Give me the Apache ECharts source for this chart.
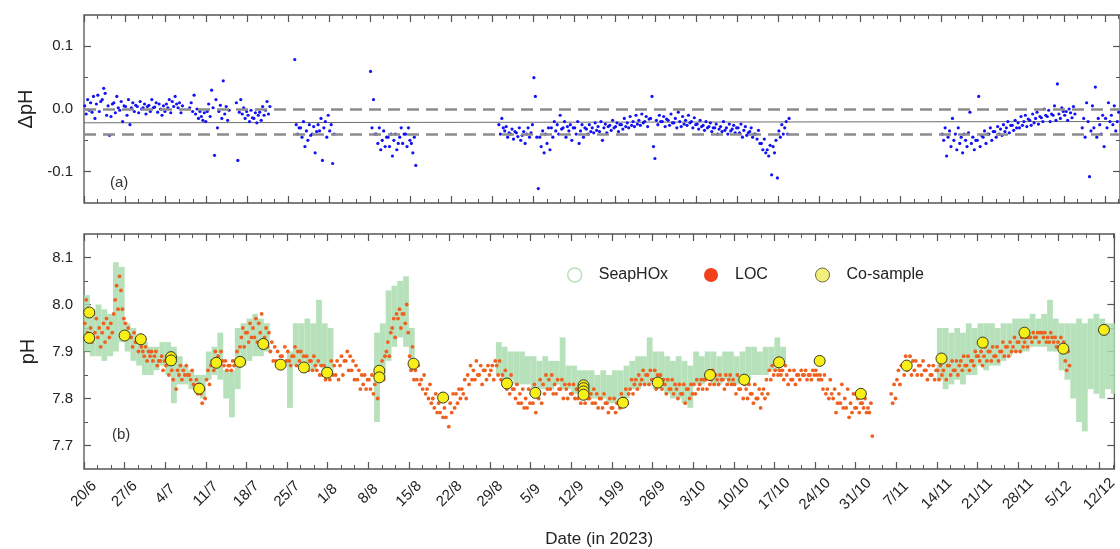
<!DOCTYPE html>
<html>
<head>
<meta charset="utf-8">
<script src="https://cdn.jsdelivr.net/npm/echarts@6/dist/echarts.min.js"></script>
<style>
  html, body { margin: 0; padding: 0; background: #fff; }
  #chart { width: 1120px; height: 549px; }
</style>
</head>
<body>
<div id="chart"></div>
<script>
// x = days since 20/6/2023
var tickLabels = ['20/6', '27/6', '4/7', '11/7', '18/7', '25/7', '1/8', '8/8', '15/8', '22/8', '29/8', '5/9', '12/9',
    '19/9', '26/9', '3/10', '10/10', '17/10', '24/10', '31/10', '7/11', '14/11', '21/11', '28/11', '5/12', '12/12'];
var xMax = 177.6;

var dphMajorTicks = [-0.1, 0, 0.1];
var dphMinorTicks = [-0.05, 0.05];
var phMajorTicks = [7.7, 7.8, 7.9, 8.0, 8.1];
var phMinorTicks = [7.75, 7.85, 7.95, 8.05];

// (a) delta pH, [day, samples over the day...]
var dphByDay = [
    [0, 0.005, -0.008, 0.015, -0.002], [1, 0.010, -0.005, 0.020, -0.015], [2, 0.008, 0.022, -0.004, 0.012],
    [3, 0.015, 0.033, 0.025, -0.010], [4, 0.005, -0.042, -0.012, 0.008], [5, 0.010, -0.006, 0.020, 0.002],
    [6, -0.002, 0.012, -0.020, 0.005], [7, 0.004, -0.010, 0.015, -0.025], [8, 0.002, 0.010, -0.004, 0.006],
    [9, 0.004, -0.006, 0.012, 0.000], [10, 0.002, 0.008, -0.008, 0.004], [11, 0.006, -0.004, 0.015, 0.002],
    [12, 0.003, 0.010, -0.005, 0.008], [13, 0.000, -0.010, 0.005, -0.004], [14, 0.008, 0.002, 0.015, -0.006],
    [15, 0.012, 0.004, 0.020, 0.008], [16, 0.002, 0.010, -0.006, 0.005],
    [18, 0.002, 0.010, -0.004, 0.022], [19, -0.008, 0.000, -0.015, -0.004], [20, -0.012, -0.018, -0.006, -0.020],
    [21, -0.004, 0.008, -0.012, 0.030], [22, 0.002, -0.074, 0.015, -0.030], [23, -0.004, 0.006, -0.015, 0.045],
    [24, -0.008, 0.004, -0.018, -0.002],
    [26, 0.010, -0.082, -0.005, 0.015], [27, -0.008, 0.002, -0.015, -0.004], [28, -0.010, -0.020, -0.002, -0.014],
    [29, -0.015, -0.006, -0.022, -0.010], [30, -0.005, -0.018, 0.004, -0.010], [31, -0.002, 0.012, -0.008, 0.004],
    [36, 0.079, -0.025, -0.040, -0.030], [37, -0.030, -0.045, -0.020, -0.060], [38, -0.035, -0.050, -0.025, -0.042],
    [39, -0.040, -0.028, -0.070, -0.036], [40, -0.025, -0.035, -0.015, -0.082], [41, -0.030, -0.020, -0.045, -0.010],
    [42, -0.035, -0.025, -0.087, -0.040],
    [49, 0.060, -0.030, 0.015, -0.040], [50, -0.040, -0.055, -0.030, -0.065], [51, -0.050, -0.035, -0.060, -0.045],
    [52, -0.045, -0.060, -0.040, -0.075], [53, -0.050, -0.040, -0.065, -0.055], [54, -0.045, -0.030, -0.055, -0.040],
    [55, -0.040, -0.060, -0.030, -0.050], [56, -0.055, -0.070, -0.045, -0.090],
    [71, -0.025, -0.040, -0.015, -0.030], [72, -0.035, -0.028, -0.045, -0.038], [73, -0.040, -0.032, -0.048, -0.036],
    [74, -0.038, -0.044, -0.030, -0.050], [75, -0.042, -0.036, -0.055, -0.040], [76, -0.030, -0.045, -0.038, -0.025],
    [77, 0.050, 0.020, -0.045, -0.127], [78, -0.045, -0.060, -0.035, -0.070], [79, -0.040, -0.055, -0.030, -0.065],
    [80, -0.030, -0.045, -0.020, -0.035], [81, -0.025, -0.040, -0.010, -0.032], [82, -0.030, -0.020, -0.045, -0.028],
    [83, -0.035, -0.025, -0.050, -0.030], [84, -0.030, -0.040, -0.020, -0.055], [85, -0.035, -0.025, -0.045, -0.030],
    [86, -0.032, -0.040, -0.025, -0.036], [87, -0.030, -0.038, -0.022, -0.034], [88, -0.028, -0.036, -0.020, -0.050],
    [89, -0.030, -0.024, -0.038, -0.028], [90, -0.026, -0.034, -0.018, -0.030], [91, -0.028, -0.022, -0.036, -0.025],
    [92, -0.025, -0.032, -0.015, -0.028], [93, -0.022, -0.030, -0.012, -0.026], [94, -0.020, -0.028, -0.010, -0.024],
    [95, -0.018, -0.026, -0.008, -0.022], [96, -0.020, -0.012, -0.028, -0.016], [97, -0.015, 0.020, -0.060, -0.079],
    [98, -0.018, -0.025, -0.010, -0.020], [99, -0.020, -0.012, -0.028, -0.016], [100, -0.018, -0.026, -0.008, -0.022],
    [101, -0.022, -0.015, -0.030, -0.005], [102, -0.020, -0.028, -0.012, -0.024], [103, -0.018, -0.026, -0.010, -0.022],
    [104, -0.020, -0.030, -0.014, -0.025], [105, -0.024, -0.032, -0.018, -0.028], [106, -0.026, -0.034, -0.020, -0.030],
    [107, -0.028, -0.022, -0.036, -0.030], [108, -0.030, -0.024, -0.040, -0.032], [109, -0.028, -0.036, -0.020, -0.034],
    [110, -0.030, -0.040, -0.024, -0.035], [111, -0.032, -0.026, -0.038, -0.030], [112, -0.030, -0.038, -0.024, -0.045],
    [113, -0.034, -0.028, -0.042, -0.038], [114, -0.036, -0.030, -0.045, -0.040], [115, -0.040, -0.048, -0.034, -0.055],
    [116, -0.055, -0.065, -0.048, -0.070], [117, -0.065, -0.075, -0.058, -0.105], [118, -0.060, -0.070, -0.050, -0.110],
    [119, -0.035, -0.045, -0.025, -0.040], [120, -0.030, -0.020, -0.040, -0.015],
    [147, -0.040, -0.050, -0.030, -0.075], [148, -0.045, -0.035, -0.060, -0.015], [149, -0.050, -0.040, -0.065, -0.030],
    [150, -0.055, -0.045, -0.070, -0.040], [151, -0.050, -0.060, -0.038, -0.005], [152, -0.055, -0.045, -0.065, -0.050],
    [153, -0.050, 0.020, -0.060, -0.042], [154, -0.045, -0.035, -0.055, -0.040], [155, -0.040, -0.030, -0.050, -0.036],
    [156, -0.036, -0.045, -0.028, -0.040], [157, -0.032, -0.042, -0.025, -0.036], [158, -0.030, -0.020, -0.038, -0.026],
    [159, -0.026, -0.034, -0.018, -0.030], [160, -0.022, -0.030, -0.012, -0.026], [161, -0.020, -0.010, -0.028, -0.016],
    [162, -0.018, -0.026, -0.008, -0.022], [163, -0.015, -0.005, -0.024, -0.012], [164, -0.014, -0.020, 0.000, -0.010],
    [165, -0.012, -0.002, -0.020, -0.008], [166, -0.010, 0.005, -0.018, 0.040], [167, -0.008, -0.015, 0.002, -0.004],
    [168, -0.010, -0.004, -0.018, 0.000], [169, -0.006, -0.014, 0.004, -0.008],
    [171, -0.030, -0.015, -0.045, 0.010], [172, -0.020, -0.108, -0.035, 0.005], [173, -0.030, 0.035, -0.045, -0.015],
    [174, -0.025, -0.040, -0.010, -0.060], [175, -0.015, -0.030, 0.010, -0.020], [176, -0.010, -0.025, 0.005, -0.035],
    [177, -0.020, -0.005, -0.030, 0.020]
];
var dphBands = [0.0, -0.045];
var dphFit = [[0, -0.022], [xMax, -0.020]];

// (b) LOC pH, [day, samples over the day...]
var locByDay = [
    [0, 7.96, 8.01, 7.94, 7.98], [1, 7.95, 7.92, 7.98, 7.94], [2, 7.97, 7.93, 7.95, 7.91], [3, 7.94, 7.96, 7.92, 7.97],
    [4, 7.95, 7.93, 7.96, 7.94], [5, 7.98, 8.01, 8.04, 7.99], [6, 8.06, 8.03, 7.99, 7.97], [7, 7.96, 7.94, 7.95, 7.93],
    [8, 7.93, 7.91, 7.94, 7.92], [9, 7.92, 7.90, 7.93, 7.91], [10, 7.90, 7.89, 7.91, 7.88], [11, 7.90, 7.89, 7.90, 7.88],
    [12, 7.89, 7.90, 7.87, 7.88], [13, 7.88, 7.89, 7.86, 7.88], [14, 7.87, 7.89, 7.85, 7.88], [15, 7.86, 7.84, 7.88, 7.82],
    [16, 7.86, 7.85, 7.87, 7.84], [17, 7.86, 7.85, 7.87, 7.85], [18, 7.85, 7.84, 7.86, 7.83], [19, 7.82, 7.84, 7.81, 7.83],
    [20, 7.81, 7.79, 7.82, 7.80], [21, 7.84, 7.86, 7.83, 7.87], [22, 7.88, 7.86, 7.90, 7.87], [23, 7.89, 7.87, 7.90, 7.88],
    [24, 7.87, 7.88, 7.86, 7.87], [25, 7.87, 7.86, 7.88, 7.87], [26, 7.88, 7.90, 7.87, 7.91], [27, 7.93, 7.95, 7.91, 7.94],
    [28, 7.94, 7.92, 7.96, 7.93], [29, 7.95, 7.93, 7.97, 7.92], [30, 7.96, 7.94, 7.98, 7.92], [31, 7.93, 7.95, 7.91, 7.94],
    [32, 7.90, 7.92, 7.88, 7.91], [33, 7.88, 7.90, 7.87, 7.89], [34, 7.89, 7.87, 7.91, 7.88], [35, 7.90, 7.88, 7.87, 7.89],
    [36, 7.89, 7.91, 7.87, 7.90], [37, 7.88, 7.90, 7.86, 7.89], [38, 7.87, 7.89, 7.86, 7.88], [39, 7.88, 7.86, 7.89, 7.87],
    [40, 7.86, 7.88, 7.85, 7.87], [41, 7.85, 7.87, 7.84, 7.86], [42, 7.86, 7.84, 7.88, 7.85], [43, 7.87, 7.85, 7.88, 7.84],
    [44, 7.87, 7.89, 7.85, 7.88], [45, 7.88, 7.90, 7.86, 7.89], [46, 7.86, 7.88, 7.84, 7.87], [47, 7.84, 7.86, 7.82, 7.85],
    [48, 7.83, 7.85, 7.82, 7.84], [49, 7.84, 7.82, 7.85, 7.81], [50, 7.83, 7.85, 7.80, 7.86], [51, 7.86, 7.88, 7.84, 7.89],
    [52, 7.90, 7.92, 7.89, 7.94], [53, 7.95, 7.97, 7.93, 7.98], [54, 7.97, 7.99, 7.95, 7.98], [55, 7.98, 7.96, 8.00, 7.94],
    [56, 7.89, 7.86, 7.91, 7.84], [57, 7.86, 7.84, 7.87, 7.83], [58, 7.84, 7.82, 7.85, 7.81], [59, 7.82, 7.80, 7.83, 7.79],
    [60, 7.80, 7.78, 7.81, 7.77], [61, 7.79, 7.77, 7.81, 7.76], [62, 7.78, 7.76, 7.80, 7.74], [63, 7.79, 7.77, 7.81, 7.78],
    [64, 7.81, 7.79, 7.82, 7.80], [65, 7.82, 7.81, 7.84, 7.80], [66, 7.85, 7.83, 7.87, 7.84], [67, 7.86, 7.84, 7.88, 7.85],
    [68, 7.85, 7.87, 7.83, 7.86], [69, 7.86, 7.84, 7.87, 7.85], [70, 7.86, 7.87, 7.84, 7.88], [71, 7.87, 7.85, 7.88, 7.84],
    [72, 7.85, 7.83, 7.86, 7.82], [73, 7.83, 7.81, 7.85, 7.82], [74, 7.82, 7.80, 7.83, 7.79], [75, 7.81, 7.79, 7.82, 7.78],
    [76, 7.80, 7.78, 7.82, 7.79], [77, 7.81, 7.79, 7.83, 7.77], [78, 7.82, 7.80, 7.84, 7.79], [79, 7.83, 7.81, 7.85, 7.82],
    [80, 7.84, 7.82, 7.85, 7.81], [81, 7.83, 7.81, 7.84, 7.82], [82, 7.82, 7.84, 7.80, 7.83], [83, 7.82, 7.80, 7.83, 7.81],
    [84, 7.81, 7.83, 7.80, 7.82], [85, 7.80, 7.82, 7.79, 7.81], [86, 7.81, 7.79, 7.82, 7.80], [87, 7.80, 7.81, 7.79, 7.82],
    [88, 7.79, 7.81, 7.78, 7.80], [89, 7.80, 7.78, 7.81, 7.79], [90, 7.79, 7.77, 7.80, 7.78], [91, 7.78, 7.80, 7.77, 7.79],
    [92, 7.79, 7.78, 7.81, 7.80], [93, 7.80, 7.82, 7.79, 7.81], [94, 7.82, 7.84, 7.81, 7.83], [95, 7.84, 7.82, 7.85, 7.83],
    [96, 7.84, 7.86, 7.83, 7.85], [97, 7.85, 7.83, 7.86, 7.84], [98, 7.84, 7.86, 7.82, 7.85], [99, 7.83, 7.85, 7.82, 7.84],
    [100, 7.83, 7.81, 7.84, 7.82], [101, 7.82, 7.84, 7.81, 7.83], [102, 7.82, 7.80, 7.83, 7.81], [103, 7.81, 7.83, 7.79, 7.82],
    [104, 7.82, 7.80, 7.83, 7.81], [105, 7.83, 7.81, 7.84, 7.82], [106, 7.83, 7.84, 7.82, 7.84], [107, 7.84, 7.82, 7.85, 7.83],
    [108, 7.84, 7.86, 7.83, 7.85], [109, 7.84, 7.83, 7.85, 7.84], [110, 7.84, 7.82, 7.85, 7.83], [111, 7.84, 7.85, 7.83, 7.84],
    [112, 7.83, 7.81, 7.85, 7.82], [113, 7.82, 7.84, 7.80, 7.83], [114, 7.82, 7.80, 7.83, 7.81], [115, 7.81, 7.79, 7.83, 7.80],
    [116, 7.80, 7.82, 7.78, 7.81], [117, 7.82, 7.80, 7.84, 7.81], [118, 7.86, 7.84, 7.87, 7.85], [119, 7.86, 7.87, 7.85, 7.86],
    [120, 7.85, 7.86, 7.84, 7.87], [121, 7.85, 7.83, 7.86, 7.84], [122, 7.84, 7.86, 7.83, 7.85], [123, 7.85, 7.84, 7.86, 7.85],
    [124, 7.85, 7.86, 7.84, 7.85], [125, 7.85, 7.84, 7.86, 7.85], [126, 7.86, 7.85, 7.84, 7.85], [127, 7.84, 7.82, 7.85, 7.81],
    [128, 7.82, 7.80, 7.84, 7.81], [129, 7.80, 7.82, 7.77, 7.79], [130, 7.81, 7.79, 7.83, 7.78], [131, 7.80, 7.78, 7.82, 7.76],
    [132, 7.79, 7.77, 7.81, 7.78], [133, 7.78, 7.80, 7.77, 7.79], [134, 7.79, 7.78, 7.80, 7.77], [135, 7.78, 7.77, 7.79, 7.72],
    [139, 7.81, 7.79, 7.83, 7.80], [140, 7.84, 7.86, 7.83, 7.87], [141, 7.87, 7.85, 7.89, 7.86], [142, 7.87, 7.89, 7.85, 7.88],
    [143, 7.86, 7.88, 7.85, 7.87], [144, 7.87, 7.85, 7.88, 7.86], [145, 7.86, 7.84, 7.87, 7.85], [146, 7.85, 7.87, 7.84, 7.86],
    [147, 7.86, 7.84, 7.87, 7.85], [148, 7.86, 7.88, 7.84, 7.87], [149, 7.87, 7.85, 7.88, 7.86], [150, 7.86, 7.88, 7.85, 7.87],
    [151, 7.88, 7.86, 7.89, 7.87], [152, 7.87, 7.89, 7.86, 7.88], [153, 7.88, 7.87, 7.90, 7.89], [154, 7.89, 7.88, 7.90, 7.87],
    [155, 7.89, 7.91, 7.88, 7.90], [156, 7.90, 7.88, 7.91, 7.89], [157, 7.89, 7.91, 7.88, 7.90], [158, 7.90, 7.92, 7.89, 7.91],
    [159, 7.91, 7.89, 7.92, 7.90], [160, 7.91, 7.93, 7.90, 7.92], [161, 7.92, 7.90, 7.93, 7.91], [162, 7.92, 7.93, 7.91, 7.93],
    [163, 7.93, 7.92, 7.94, 7.93], [164, 7.93, 7.94, 7.92, 7.94], [165, 7.94, 7.93, 7.94, 7.92], [166, 7.93, 7.92, 7.94, 7.93],
    [167, 7.92, 7.93, 7.91, 7.92], [168, 7.91, 7.93, 7.90, 7.92], [169, 7.88, 7.86, 7.90, 7.87]
];

// (b) SeapHOx daily range, [day, low, high]
var seaphoxByDay = [
    [0, 7.90, 8.02], [1, 7.89, 7.99], [2, 7.89, 8.00], [3, 7.88, 7.99], [4, 7.89, 7.98], [5, 7.90, 8.09],
    [6, 7.92, 8.08], [7, 7.90, 7.96], [8, 7.88, 7.95], [9, 7.87, 7.93], [10, 7.85, 7.92], [11, 7.85, 7.91],
    [12, 7.86, 7.91], [13, 7.87, 7.92], [14, 7.85, 7.92], [15, 7.79, 7.91], [16, 7.83, 7.89], [17, 7.83, 7.87],
    [18, 7.82, 7.86], [19, 7.81, 7.85], [20, 7.80, 7.85], [21, 7.84, 7.90], [22, 7.85, 7.91], [23, 7.84, 7.94],
    [24, 7.80, 7.86], [25, 7.76, 7.86], [26, 7.82, 7.95], [27, 7.87, 7.96], [28, 7.88, 7.97], [29, 7.89, 7.98],
    [30, 7.89, 7.97], [31, 7.90, 7.96],
    [35, 7.78, 7.90], [36, 7.87, 7.96], [37, 7.86, 7.96], [38, 7.87, 7.97], [39, 7.86, 7.96], [40, 7.87, 8.01],
    [41, 7.86, 7.96], [42, 7.85, 7.95],
    [50, 7.75, 7.94], [51, 7.84, 7.96], [52, 7.88, 8.03], [53, 7.91, 8.04], [54, 7.93, 8.05], [55, 7.91, 8.06],
    [56, 7.86, 7.95],
    [71, 7.85, 7.92], [72, 7.84, 7.91], [73, 7.84, 7.90], [74, 7.83, 7.90], [75, 7.83, 7.90], [76, 7.83, 7.89],
    [77, 7.82, 7.89], [78, 7.82, 7.88], [79, 7.82, 7.89], [80, 7.82, 7.88], [81, 7.83, 7.88], [82, 7.82, 7.93],
    [83, 7.82, 7.87], [84, 7.81, 7.87], [85, 7.81, 7.86], [86, 7.80, 7.86], [87, 7.80, 7.86], [88, 7.80, 7.85],
    [89, 7.80, 7.86], [90, 7.79, 7.85], [91, 7.79, 7.86], [92, 7.79, 7.86], [93, 7.80, 7.87], [94, 7.82, 7.88],
    [95, 7.82, 7.89], [96, 7.83, 7.89], [97, 7.83, 7.93], [98, 7.82, 7.90], [99, 7.82, 7.90], [100, 7.81, 7.89],
    [101, 7.80, 7.88], [102, 7.80, 7.89], [103, 7.79, 7.88], [104, 7.78, 7.87], [105, 7.83, 7.90], [106, 7.83, 7.89],
    [107, 7.84, 7.90], [108, 7.83, 7.90], [109, 7.83, 7.89], [110, 7.84, 7.90], [111, 7.83, 7.90], [112, 7.83, 7.89],
    [113, 7.84, 7.90], [114, 7.84, 7.91], [115, 7.85, 7.91], [116, 7.85, 7.90], [117, 7.85, 7.91], [118, 7.86, 7.91],
    [119, 7.86, 7.93], [120, 7.87, 7.91],
    [147, 7.84, 7.95], [148, 7.82, 7.95], [149, 7.83, 7.94], [150, 7.84, 7.95], [151, 7.83, 7.94], [152, 7.85, 7.96],
    [153, 7.85, 7.95], [154, 7.87, 7.96], [155, 7.86, 7.96], [156, 7.87, 7.96], [157, 7.87, 7.95], [158, 7.88, 7.96],
    [159, 7.89, 7.96], [160, 7.90, 7.97], [161, 7.90, 7.97], [162, 7.90, 7.97], [163, 7.91, 7.98], [164, 7.91, 7.97],
    [165, 7.91, 7.98], [166, 7.90, 8.01], [167, 7.90, 7.97], [168, 7.86, 7.96], [169, 7.84, 7.96], [170, 7.80, 7.96],
    [171, 7.75, 7.97], [172, 7.73, 7.96], [173, 7.82, 7.97], [174, 7.81, 7.98], [175, 7.80, 7.97], [176, 7.82, 7.96],
    [177, 7.81, 7.96]
];

// (b) discrete co-samples
var coDays = [0.9, 0.9, 7.0, 9.8, 15.0, 15.0, 19.85, 22.8, 26.9, 30.9, 33.9, 37.9, 41.9, 50.9, 50.9, 56.8, 61.9,
    72.9, 77.8, 86.1, 86.1, 86.1, 86.1, 92.9, 98.9, 107.9, 113.8, 119.8, 126.8, 133.9, 141.8, 147.8, 154.9, 162.1,
    168.8, 175.8];
var coValues = [7.983, 7.929, 7.934, 7.926, 7.888, 7.881, 7.821, 7.876, 7.878, 7.916, 7.872, 7.866, 7.855, 7.859,
    7.845, 7.874, 7.802, 7.832, 7.812, 7.828, 7.822, 7.815, 7.808, 7.791, 7.834, 7.850, 7.840, 7.877, 7.880, 7.810,
    7.870, 7.885, 7.919, 7.940, 7.906, 7.946];

// samples of one day spread evenly over that day
function toPoints(byDay) {
    var pts = [];
    for (var i = 0; i < byDay.length; i++) {
        var row = byDay[i];
        var n = row.length - 1;
        for (var k = 1; k <= n; k++) {
            pts.push([row[0] + (k - 0.5) / n, row[k]]);
        }
    }
    return pts;
}

var axisColor = '#555';
var textColor = '#222';

function xAx(gi, pos, withLabels) {
    return {
        type: 'value', gridIndex: gi, position: pos, min: 0, max: xMax, interval: 7,
        axisLine: { show: false, onZero: false },
        axisTick: { show: true, inside: true, length: 7, lineStyle: { color: axisColor, width: 1.2 } },
        minorTick: { show: true, splitNumber: 3, length: 4, lineStyle: { color: axisColor, width: 1 } },
        splitLine: { show: false },
        minorSplitLine: { show: false },
        axisLabel: withLabels ? {
            show: true, rotate: 45, align: 'center', verticalAlign: 'middle', margin: 25,
            fontSize: 15, color: textColor, showMaxLabel: false,
            formatter: function (v) {
                var i = Math.round(v / 7);
                return Math.abs(v - 7 * i) < 1e-6 && i < tickLabels.length ? tickLabels[i] : '';
            }
        } : { show: false },
        name: withLabels ? 'Date (in 2023)' : '',
        nameLocation: 'middle', nameGap: 62,
        nameTextStyle: { fontSize: 17, color: textColor }
    };
}

function yAx(gi, min, max, majors, minors, name) {
    var list = [];
    ['left', 'right'].forEach(function (pos) {
        list.push({
            type: 'value', gridIndex: gi, position: pos, min: min, max: max, interval: 0.05,
            axisLine: { show: false, onZero: false },
            splitLine: { show: false },
            axisTick: { show: true, inside: true, length: 7, customValues: majors, lineStyle: { color: axisColor, width: 1.2 } },
            axisLabel: {
                show: pos === 'left', customValues: majors, margin: 11, fontSize: 15, color: textColor,
                formatter: function (v) {
                    return Math.abs(v * 10 - Math.round(v * 10)) < 1e-6 ? v.toFixed(1) : '';
                }
            },
            name: pos === 'left' ? name : '',
            nameLocation: 'middle', nameGap: 46,
            nameTextStyle: { fontSize: 20, color: textColor }
        });
        list.push({
            type: 'value', gridIndex: gi, position: pos, min: min, max: max, interval: 0.05,
            axisLine: { show: false, onZero: false },
            splitLine: { show: false },
            axisTick: { show: true, inside: true, length: 4, customValues: minors, lineStyle: { color: axisColor, width: 1 } },
            axisLabel: { show: false }
        });
    });
    return list;
}

var myChart = echarts.init(document.getElementById('chart'));

var option = {
    animation: false,
    backgroundColor: '#fff',
    textStyle: { fontFamily: 'Liberation Sans, Arial, sans-serif' },
    grid: [
        { left: 84, right: -1, top: 15, height: 188, show: true, borderColor: axisColor, borderWidth: 1.3 },
        { left: 84, right: -1, top: 234, height: 236, show: true, borderColor: axisColor, borderWidth: 1.3 }
    ],
    xAxis: [xAx(0, 'bottom', false), xAx(0, 'top', false), xAx(1, 'bottom', true), xAx(1, 'top', false)],
    yAxis: yAx(0, -0.15, 0.15, dphMajorTicks, dphMinorTicks, 'ΔpH')
        .concat(yAx(1, 7.65, 8.15, phMajorTicks, phMinorTicks, 'pH')),
    legend: [
        {
            left: 562, top: 262, selectedMode: false, itemWidth: 14, itemHeight: 14,
            textStyle: { fontSize: 16, color: textColor, padding: [0, 0, 0, 12] },
            data: [{ name: 'SeapHOx', icon: 'circle', itemStyle: { color: '#fff', borderColor: '#b9e0bd', borderWidth: 1.5 } }]
        },
        {
            left: 699, top: 262, selectedMode: false, itemWidth: 14, itemHeight: 14,
            textStyle: { fontSize: 16, color: textColor, padding: [0, 0, 0, 12] },
            data: [{ name: 'LOC', icon: 'circle', itemStyle: { color: '#f2401c', opacity: 1 } }]
        },
        {
            left: 810, top: 262, selectedMode: false, itemWidth: 14, itemHeight: 14,
            textStyle: { fontSize: 16, color: textColor, padding: [0, 0, 0, 12] },
            data: [{ name: 'Co-sample', icon: 'circle', itemStyle: { color: '#f4ef7a', borderColor: '#6b6b3a', borderWidth: 1, opacity: 1 } }]
        }
    ],
    graphic: [
        { type: 'text', left: 110, top: 175, style: { text: '(a)', fontSize: 15, fill: '#333', fontFamily: 'Liberation Sans, Arial' } },
        { type: 'text', left: 112, top: 427, style: { text: '(b)', fontSize: 15, fill: '#333', fontFamily: 'Liberation Sans, Arial' } }
    ],
    series: [
        {
            name: 'fit', type: 'line', xAxisIndex: 0, yAxisIndex: 0, z: 1,
            data: dphFit, symbol: 'none', silent: true,
            lineStyle: { color: '#6e6e6e', width: 1 },
            markLine: {
                silent: true, symbol: ['none', 'none'], label: { show: false },
                lineStyle: { color: '#8c8c8c', width: 2.5, type: [12, 7] },
                data: dphBands.map(function (v) { return { yAxis: v }; })
            }
        },
        {
            name: 'dpH', type: 'scatter', xAxisIndex: 0, yAxisIndex: 0, z: 3,
            data: toPoints(dphByDay), symbolSize: 3.2,
            itemStyle: { color: '#1212f5', opacity: 1 }
        },
        {
            name: 'SeapHOx', type: 'custom', xAxisIndex: 2, yAxisIndex: 4, z: 1, clip: true,
            data: seaphoxByDay.map(function (r) { return [r[0] + 0.5, r[1], r[2]]; }),
            encode: { x: 0, y: [1, 2] },
            itemStyle: { color: '#aadcae' },
            renderItem: function (params, api) {
                var x = api.value(0);
                var p1 = api.coord([x - 0.5, api.value(2)]);
                var p2 = api.coord([x + 0.5, api.value(1)]);
                return {
                    type: 'rect',
                    shape: { x: p1[0], y: p1[1], width: p2[0] - p1[0], height: p2[1] - p1[1] },
                    style: { fill: '#aadcae', opacity: 0.85 }
                };
            }
        },
        {
            name: 'LOC', type: 'scatter', xAxisIndex: 2, yAxisIndex: 4, z: 2,
            data: toPoints(locByDay), symbolSize: 3.8,
            itemStyle: { color: '#f0601e', opacity: 1 }
        },
        {
            name: 'Co-sample', type: 'scatter', xAxisIndex: 2, yAxisIndex: 4, z: 4,
            data: coDays.map(function (d, i) { return [d, coValues[i]]; }),
            symbolSize: 11,
            itemStyle: { color: '#f7ef17', borderColor: '#3a3a20', borderWidth: 1, opacity: 1 }
        }
    ]
};

myChart.setOption(option);
</script>
</body>
</html>
